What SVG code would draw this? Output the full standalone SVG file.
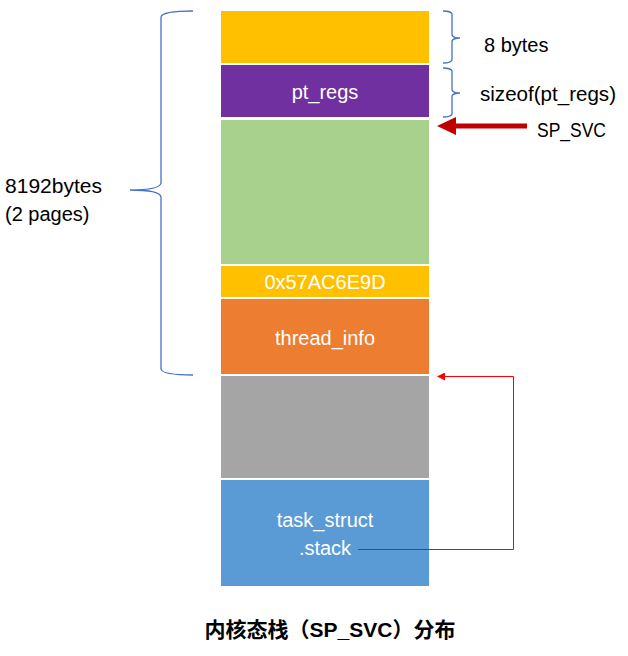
<svg xmlns="http://www.w3.org/2000/svg" width="628" height="656" viewBox="0 0 628 656">
<defs>
<style>
.lbl{font-family:"Liberation Sans",Arial,sans-serif;font-size:20px;fill:#000}
.in{font-family:"Liberation Sans",Arial,sans-serif;font-size:20px;fill:#fff;text-anchor:middle}
.brace{fill:none;stroke:#4472C4;stroke-width:1.3}
</style>
<marker id="ah" markerWidth="8" markerHeight="8" refX="7" refY="4" orient="auto" markerUnits="userSpaceOnUse">
<path d="M0,0 L8,4 L0,8 Z" fill="#FF0000"/>
</marker>
</defs>
<rect width="628" height="656" fill="#fff"/>
<g id="pad"><rect x="221" y="11" width="208" height="52" fill="#FFC000"/></g>
<g id="pt_regs"><rect x="221" y="65" width="208" height="52" fill="#7030A0"/><text class="in" x="325" y="99">pt_regs</text></g>
<g id="free"><rect x="221" y="120" width="208" height="144" fill="#A9D18E"/></g>
<g id="magic"><rect x="221" y="266" width="208" height="31" fill="#FFC000"/><text class="in" x="325" y="289">0x57AC6E9D</text></g>
<g id="thread_info"><rect x="221" y="299" width="208" height="75" fill="#ED7D31"/><text class="in" x="325" y="345">thread_info</text></g>
<g id="gray"><rect x="221" y="376" width="208" height="102" fill="#A5A5A5"/></g>
<g id="task_struct"><rect x="221" y="480" width="208" height="106" fill="#5B9BD5"/><text class="in" x="325" y="527">task_struct</text><text class="in" x="325" y="555">.stack</text></g>
<g id="braces">
<path class="brace" d="M193,11 Q162,11 161,17 L161,183 Q160,190 130,190 Q160,190 161,197 L161,369 Q162,375 193,375"/>
<path class="brace" d="M443,11 Q451,11 452,14 L452,35 Q453,38 460,38 Q453,38 452,41 L452,60 Q451,63 443,63"/>
<path class="brace" d="M443,68 Q451,68 452,71 L452,90 Q453,93 460,93 Q453,93 452,96 L452,114 Q451,117 443,117"/>
</g>
<g id="labels">
<text class="lbl" x="484" y="52">8 bytes</text>
<text class="lbl" x="480" y="101" textLength="136" lengthAdjust="spacingAndGlyphs">sizeof(pt_regs)</text>
<text class="lbl" x="537" y="137" textLength="69" lengthAdjust="spacingAndGlyphs">SP_SVC</text>
<text class="lbl" x="5" y="193" textLength="97" lengthAdjust="spacingAndGlyphs">8192bytes</text>
<text class="lbl" x="5" y="221">(2 pages)</text>
<text x="330" y="637" text-anchor="middle" style="font-family:'Liberation Sans','Noto Sans CJK SC',sans-serif;font-size:21px;font-weight:bold;fill:#000">内核态栈（SP_SVC）分布</text>
</g>
<g id="connectors">
<line x1="527" y1="126" x2="452" y2="126" stroke="#C00000" stroke-width="5"/>
<path d="M437,126 L456,117 L456,135 Z" fill="#C00000"/>
<polyline points="358,549.5 513.5,549.5 513.5,376.5 438,376.5" fill="none" stroke="#FF0000" stroke-width="1" marker-end="url(#ah)"/>
</g>
</svg>
